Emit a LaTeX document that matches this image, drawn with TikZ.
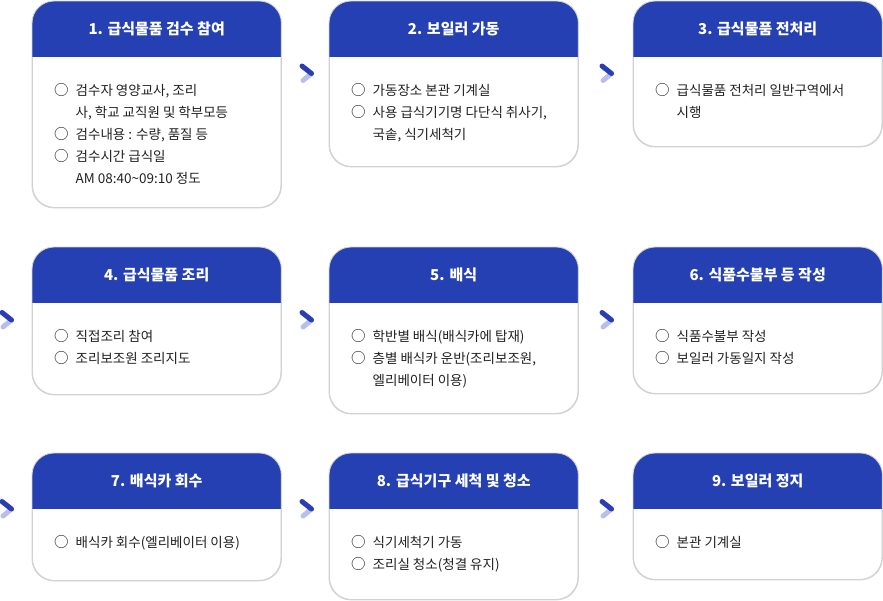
\documentclass[tikz,border=0pt]{standalone}
\usepackage{fontspec}
\setmainfont{Noto Sans CJK KR}
\usetikzlibrary{calc}
\definecolor{hdrblue}{HTML}{2540B2}
\definecolor{chevdark}{HTML}{2A3DB5}
\definecolor{chevlight}{HTML}{B9BEEA}
\definecolor{edgegray}{HTML}{D2D2D2}
\definecolor{bodytxt}{HTML}{222222}
\tikzset{
  card/.style={draw=edgegray, line width=0.9pt, rounded corners=22pt, fill=white, inner sep=0pt, minimum width=248.5pt, anchor=north west},
  cardtitle/.style={text=white, font=\fontsize{15}{17}\selectfont\bfseries, inner sep=0pt},
  cardbody/.style={text=bodytxt, font=\fontsize{13.5}{22}\selectfont, align=left, anchor=north west, inner sep=0pt},
  chevd/.style={draw=chevdark, line width=5pt, line cap=round},
  chevl/.style={draw=chevlight, line width=5pt, line cap=round},
}
\newcommand{\cbul}[1]{\rule{0pt}{12pt}\makebox[21.5pt][l]{\raisebox{-0.3pt}{\fontsize{14.5}{14.5}\selectfont ○}}#1}
\newcommand{\cind}[1]{\rule{0pt}{12pt}\hspace*{21.5pt}#1}
\newcommand{\mkcard}[6]{%
  \node[card, minimum height=#4pt] (#1) at (#2,#3) {};
  \begin{scope}
    \clip[rounded corners=22pt] (#1.north west) rectangle (#1.south east);
    \fill[hdrblue] (#1.north west) rectangle ($(#1.north east)+(0,56)$);
  \end{scope}
  \draw[edgegray, line width=0.9pt, rounded corners=22pt] (#1.north west) rectangle (#1.south east);
  \node[cardtitle] (#1-t) at ($(#1.north)+(0,28)$) {#5};
  \node[cardbody] (#1-b) at ($(#1.north west)+(22,82)$) {#6};
}
\newcommand{\chev}[3]{%
  \coordinate (#1) at (#2,#3);
  \draw[chevl] ($(#1)+(-8.5,7)$) -- (#1);
  \draw[chevd] ($(#1)+(-9.5,-7.5)$) -- (#1);
}
\begin{document}
\begin{tikzpicture}[x=1pt,y=-1pt]
\useasboundingbox (0,0) rectangle (883,600);
\fill[white] (0,0) rectangle (883,600);
\mkcard{c1}{32}{1}{206}{1. 급식물품 검수 참여}{\cbul{검수자 영양교사, 조리}\\ \cind{사, 학교 교직원 및 학부모등}\\ \cbul{검수내용 : 수량, 품질 등}\\ \cbul{검수시간 급식일}\\ \cind{AM 08:40{\char"007E}09:10 정도}}
\mkcard{c2}{329}{1}{165}{2. 보일러 가동}{\cbul{가동장소 본관 기계실}\\ \cbul{사용 급식기기명 다단식 취사기,}\\ \cind{국솥, 식기세척기}}
\mkcard{c3}{633}{1}{145}{3. 급식물품 전처리}{\cbul{급식물품 전처리 일반구역에서}\\ \cind{시행}}
\mkcard{c4}{32}{247}{147}{4. 급식물품 조리}{\cbul{직접조리 참여}\\ \cbul{조리보조원 조리지도}}
\mkcard{c5}{329}{247}{166}{5.\hspace{5pt}배식}{\cbul{학반별 배식(배식카에 탑재)}\\ \cbul{층별 배식카 운반(조리보조원,}\\ \cind{엘리베이터 이용)}}
\mkcard{c6}{633}{247}{146}{6. 식품수불부 등 작성}{\cbul{식품수불부 작성}\\ \cbul{보일러 가동일지 작성}}
\mkcard{c7}{32}{453}{127}{7. 배식카 회수}{\cbul{배식카 회수(엘리베이터 이용)}}
\mkcard{c8}{329}{453}{146}{8.\hspace{5pt}급식기구 세척 및 청소}{\cbul{식기세척기 가동}\\ \cbul{조리실 청소(청결 유지)}}
\mkcard{c9}{633}{453}{126}{9. 보일러 정지}{\cbul{본관 기계실}}
\chev{k12}{311.5}{73.5}
\chev{k23}{611.5}{73.5}
\chev{k34}{11.5}{320}
\chev{k45}{311.5}{320}
\chev{k56}{611.5}{320}
\chev{k67}{11.5}{509}
\chev{k78}{311.5}{509}
\chev{k89}{611.5}{509}
\end{tikzpicture}
\end{document}
